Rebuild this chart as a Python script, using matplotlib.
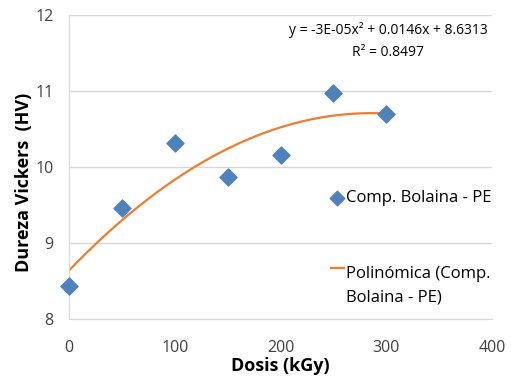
import matplotlib.pyplot as plt
import numpy as np
from matplotlib.legend_handler import HandlerLine2D

plt.rcParams['font.family'] = ['Open Sans', 'DejaVu Sans']

dosis = [0, 50, 100, 150, 200, 250, 300]
dureza = [8.43, 9.46, 10.32, 9.87, 10.16, 10.97, 10.69]
serie = 'Comp. Bolaina - PE'
tendencia = 'Polinómica (Comp.\nBolaina - PE)'
ecuacion = 'y = -3E-05x² + 0.0146x + 8.6313\nR² = 0.8497'

blue = '#4F81BD'
orange = '#ED7D31'


class TopLine(HandlerLine2D):
    # put the legend line next to the first text row, not the middle
    def create_artists(self, legend, orig_handle, xdescent, ydescent,
                       width, height, fontsize, trans):
        arts = super().create_artists(legend, orig_handle, xdescent, ydescent,
                                      width, height, fontsize, trans)
        for a in arts:
            a.set_ydata(np.asarray(a.get_ydata()) + fontsize * 1.05)
        return arts


fig = plt.figure(figsize=(5.11, 3.81), dpi=100)
ax = fig.add_axes([0.135, 0.163, 0.828, 0.798])

# polynomial trendline (order 2), like excel
coef = np.polyfit(dosis, dureza, 2)
xs = np.linspace(min(dosis), max(dosis), 200)
linea, = ax.plot(xs, np.polyval(coef, xs), color=orange, lw=1.6, label=tendencia, zorder=2)
puntos = ax.scatter(dosis, dureza, marker='D', s=75, color=blue, label=serie, zorder=3, clip_on=False)

ax.set_xlim(0, 400)
ax.set_ylim(8, 12)
ax.set_xticks([0, 100, 200, 300, 400])
ax.set_yticks([8, 9, 10, 11, 12])
ax.yaxis.grid(True, color='#D9D9D9', lw=1)
ax.set_axisbelow(True)
for s in ['top', 'right']:
    ax.spines[s].set_visible(False)
for s in ['left', 'bottom']:
    ax.spines[s].set_color('#D9D9D9')
ax.tick_params(length=0, labelsize=11.5, colors='#404040')
ax.tick_params(axis='x', pad=15)
ax.tick_params(axis='y', pad=11)

ax.set_xlabel('Dosis (kGy)', fontsize=13, fontweight='bold', labelpad=1)
ax.set_ylabel('Dureza Vickers  (HV)', fontsize=13, fontweight='bold')
ax.yaxis.set_label_coords(-0.085, 0.45)

ax.text(0.754, 0.975, ecuacion, transform=ax.transAxes, ha='center', va='top',
        fontsize=10, linespacing=1.6)

leg = ax.legend([puntos, linea], [serie, tendencia], loc='center left', bbox_to_anchor=(0.583, 0.234),
                frameon=False, fontsize=12, labelspacing=3.6, handlelength=0.8,
                handletextpad=0.1, markerscale=0.85, handler_map={linea: TopLine()})
for t in leg.get_texts():
    t.set_linespacing(1.62)

fig.savefig('out.png', dpi=100)
